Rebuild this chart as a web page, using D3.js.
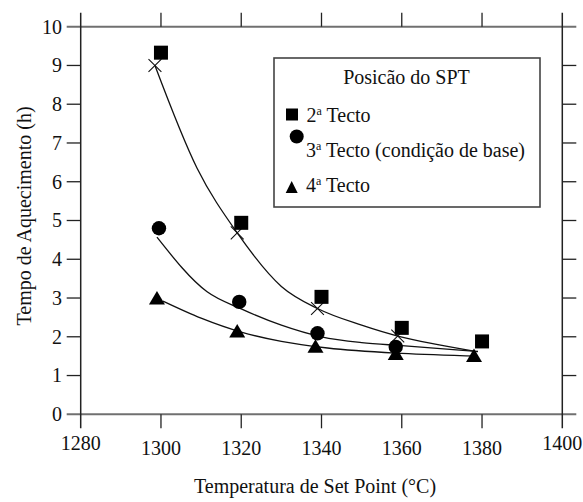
<!DOCTYPE html>
<html><head><meta charset="utf-8">
<script src="https://cdn.jsdelivr.net/npm/d3@7"></script>
<style>
html,body{margin:0;padding:0;background:#fff;}
</style></head>
<body><svg id="c" width="583" height="502" style="font-family:'Liberation Serif','Times New Roman',Times,'DejaVu Serif',serif"></svg>
<script>
const xTicks = [1280,1300,1320,1340,1360,1380,1400];
const yTicks = [0,1,2,3,4,5,6,7,8,9,10];
const xTitle = "Temperatura de Set Point (°C)";
const yTitle = "Tempo de Aquecimento (h)";
const legendTitle = "Posicão do SPT";
const seriesNames = ["2", "3", "4"];
const seriesSuffix = [" Tecto", " Tecto (condição de base)", " Tecto"];

// markers
const sqX = [1300,1320,1340,1360,1380];
const sqY = [9.33,4.94,3.03,2.23,1.88];
const ciX = [1299.5,1319.5,1339,1358.5];
const ciY = [4.80,2.90,2.09,1.74];
const trX = [1299,1319,1338.5,1358.5,1378];
const trY = [2.96,2.11,1.72,1.53,1.48];
// fitted curves
const sqFitX = [1298.5,1309,1319,1330,1339,1350,1359,1369,1378];
const sqFitY = [9.0,6.35,4.68,3.3,2.73,2.3,2.02,1.8,1.63];
const ciFitX = [1299,1311.5,1320,1330,1340,1350,1360,1379];
const ciFitY = [4.57,3.16,2.72,2.3,2.0,1.85,1.77,1.62];
const trFitX = [1300.5,1310,1320,1330,1341.5,1360,1379];
const trFitY = [2.92,2.48,2.12,1.88,1.71,1.57,1.50];
// fitted values marked with ×
const crossX = [1298.5,1319,1339,1359];
const crossY = [9.0,4.68,2.73,2.02];

const FONT = "'Liberation Serif','Times New Roman',Times,'DejaVu Serif',serif";
const svg = d3.select("#c");
const x = d3.scaleLinear().domain([1280,1400]).range([80.7,562.3]);
const y = d3.scaleLinear().domain([0,10]).range([414.3,26.7]);
const L = x(1280), R = x(1400), B = y(0), T = y(10);
const tk = 14;

const g = svg.append("g");
g.append("line").attr("x1",L-tk).attr("x2",R+tk).attr("y1",B).attr("y2",B).attr("stroke","#707070").attr("stroke-width",2);
g.append("line").attr("x1",L-tk).attr("x2",R+tk).attr("y1",T).attr("y2",T).attr("stroke","#707070").attr("stroke-width",2);
g.append("line").attr("x1",L).attr("x2",L).attr("y1",T-tk).attr("y2",B+tk).attr("stroke","#222").attr("stroke-width",1.5);
g.append("line").attr("x1",R).attr("x2",R).attr("y1",T-tk).attr("y2",B+tk).attr("stroke","#222").attr("stroke-width",1.5);

const innerX = xTicks.slice(1,-1);
g.selectAll(".xb").data(innerX).join("line").attr("x1",d=>x(d)).attr("x2",d=>x(d)).attr("y1",B).attr("y2",B+tk).attr("stroke","#222").attr("stroke-width",1.3);
g.selectAll(".xt").data(innerX).join("line").attr("x1",d=>x(d)).attr("x2",d=>x(d)).attr("y1",T).attr("y2",T-tk).attr("stroke","#222").attr("stroke-width",1.3);
const innerY = yTicks.slice(1,-1);
g.selectAll(".yl").data(innerY).join("line").attr("x1",L-tk).attr("x2",L).attr("y1",d=>y(d)).attr("y2",d=>y(d)).attr("stroke","#222").attr("stroke-width",1.3);
g.selectAll(".yr").data(innerY).join("line").attr("x1",R).attr("x2",R+tk).attr("y1",d=>y(d)).attr("y2",d=>y(d)).attr("stroke","#222").attr("stroke-width",1.3);

svg.selectAll(".xl").data(xTicks).join("text")
  .attr("font-family",FONT).attr("fill","#111")
  .attr("x",d=>x(d)).attr("y",(d,i)=> (i===0||i===xTicks.length-1)?450:455)
  .attr("text-anchor","middle").attr("font-size",20).text(d=>d);
svg.selectAll(".ylab").data(yTicks).join("text")
  .attr("font-family",FONT).attr("fill","#111")
  .attr("x",62).attr("y",d=>y(d)).attr("dy","0.34em")
  .attr("text-anchor","end").attr("font-size",20).text(d=>d);

svg.append("text").attr("font-family",FONT).attr("fill","#111").attr("x",315).attr("y",493).attr("text-anchor","middle").attr("font-size",20).text(xTitle);
svg.append("text").attr("font-family",FONT).attr("fill","#111").attr("transform","translate(31,216) rotate(-90)").attr("text-anchor","middle").attr("font-size",20).text(yTitle);

const line = d3.line().x(d=>x(d[0])).y(d=>y(d[1])).curve(d3.curveMonotoneX);
[[sqFitX,sqFitY],[ciFitX,ciFitY],[trFitX,trFitY]].forEach(([xs,ys])=>{
  svg.append("path").attr("d",line(xs.map((v,i)=>[v,ys[i]]))).attr("fill","none").attr("stroke","#111").attr("stroke-width",1.3);
});
svg.selectAll(".cx").data(crossX.map((v,i)=>[v,crossY[i]])).join("path")
  .attr("transform",d=>`translate(${x(d[0])},${y(d[1])})`)
  .attr("d",d3.symbol(d3.symbolX,110)()).attr("fill","none").attr("stroke","#111").attr("stroke-width",1.1);

svg.selectAll(".sq").data(sqX.map((v,i)=>[v,sqY[i]])).join("rect")
  .attr("x",d=>x(d[0])-7).attr("y",d=>y(d[1])-7).attr("width",14).attr("height",14).attr("fill","#000");
svg.selectAll(".ci").data(ciX.map((v,i)=>[v,ciY[i]])).join("circle")
  .attr("cx",d=>x(d[0])).attr("cy",d=>y(d[1])).attr("r",7.2).attr("fill","#000");
const triPath = "M0,-8.5L8,5L-8,5Z";
svg.selectAll(".tr").data(trX.map((v,i)=>[v,trY[i]])).join("path")
  .attr("transform",d=>`translate(${x(d[0])},${y(d[1])})`).attr("d",triPath).attr("fill","#000");

const lg = svg.append("g");
lg.append("rect").attr("x",274).attr("y",58).attr("width",266).attr("height",149)
  .attr("fill","#fff").attr("stroke","#444").attr("stroke-width",1.6);
lg.append("text").attr("font-family",FONT).attr("fill","#111").attr("x",406.5).attr("y",84).attr("text-anchor","middle").attr("font-size",20).text(legendTitle);
lg.append("rect").attr("x",286).attr("y",108.5).attr("width",12).attr("height",12).attr("fill","#000");
lg.append("circle").attr("cx",296.7).attr("cy",136.5).attr("r",7).attr("fill","#000");
lg.append("path").attr("transform","translate(291.7,187.5)").attr("d","M0,-6.5L6,5.5L-6,5.5Z").attr("fill","#000");
const baselines = [121.7,156.7,192.3];
const tx = [306.5,306,306];
seriesNames.forEach((n,i)=>{
  const t = lg.append("text").attr("font-family",FONT).attr("fill","#111").attr("x",tx[i]).attr("y",baselines[i]).attr("font-size",20);
  t.append("tspan").text(n);
  t.append("tspan").attr("font-size",12).attr("dy",-7).text("a");
  t.append("tspan").attr("dy",7).text(seriesSuffix[i]);
});
</script></body></html>
